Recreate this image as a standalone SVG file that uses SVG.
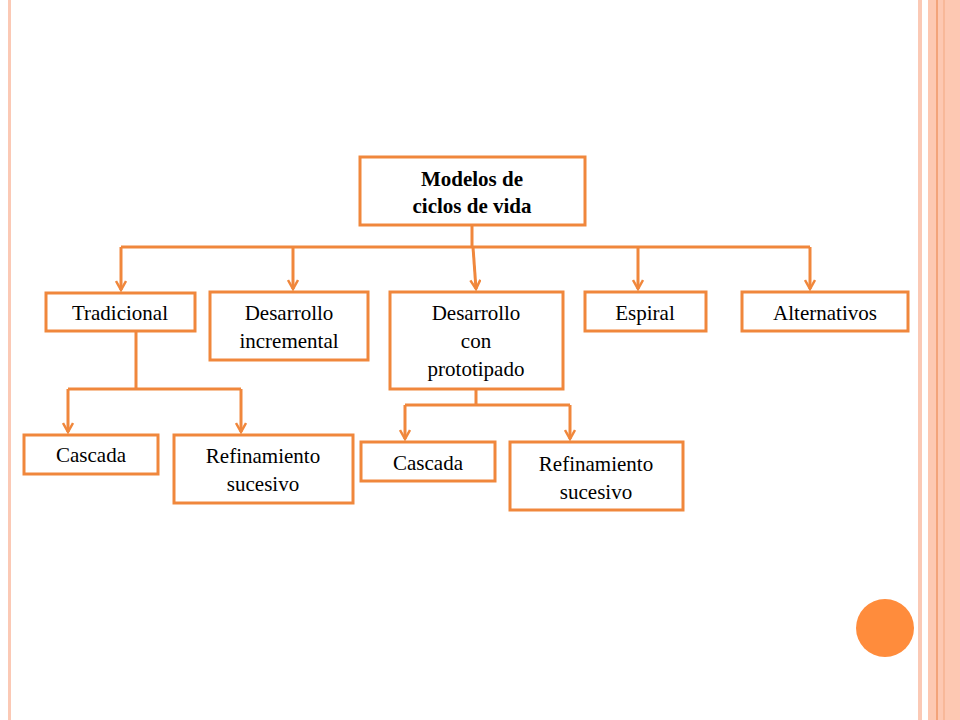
<svg xmlns="http://www.w3.org/2000/svg" width="960" height="720" viewBox="0 0 960 720">
<defs>
<marker id="a" viewBox="0 0 12 12" refX="10" refY="6" markerWidth="12" markerHeight="12" markerUnits="userSpaceOnUse" orient="auto"><path d="M1,1 L10,6 L1,11" fill="none" stroke="#F0873C" stroke-width="2.5"/></marker>
<style>
.b{fill:#fff;stroke:#F0873C;stroke-width:3}
.t{font-family:"Liberation Serif",serif;font-size:21px;fill:#000;text-anchor:middle}
.c{fill:none;stroke:#F0873C;stroke-width:3}
</style>
</defs>
<rect width="960" height="720" fill="#fff"/>
<rect x="8" y="0" width="3" height="720" fill="#FBC9B5"/>
<rect x="918" y="0" width="4" height="720" fill="#FBC9B5"/>
<rect x="928" y="0" width="32" height="720" fill="#FDC8B2"/>
<rect x="936" y="0" width="2" height="720" fill="#F3A37A"/>
<rect x="943" y="0" width="2" height="720" fill="#F8B899"/>
<circle cx="885" cy="628" r="29" fill="#FF8C3C"/>
<g id="connectors">
<path class="c" d="M472,225 V247"/>
<path class="c" d="M121,247 H810"/>
<path class="c" d="M121,247 V290" marker-end="url(#a)"/>
<path class="c" d="M293,247 V289" marker-end="url(#a)"/>
<path class="c" d="M473,247 L476,289" marker-end="url(#a)"/>
<path class="c" d="M638,247 V289" marker-end="url(#a)"/>
<path class="c" d="M810,247 V289" marker-end="url(#a)"/>
<path class="c" d="M136,331 V389 M68,389 H241"/>
<path class="c" d="M68,389 V432" marker-end="url(#a)"/>
<path class="c" d="M241,389 V432" marker-end="url(#a)"/>
<path class="c" d="M476,389 V405 M405,405 H570"/>
<path class="c" d="M405,405 V439" marker-end="url(#a)"/>
<path class="c" d="M570,405 V439" marker-end="url(#a)"/>
</g>
<g id="root"><rect class="b" x="360" y="157" width="225" height="68"/><text class="t" font-weight="bold" x="472" y="186">Modelos de</text><text class="t" font-weight="bold" x="472" y="213">ciclos de vida</text></g>
<g id="tradicional"><rect class="b" x="46" y="293" width="149" height="38"/><text class="t" x="120" y="320">Tradicional</text></g>
<g id="incremental"><rect class="b" x="210" y="292" width="158" height="68"/><text class="t" x="289" y="320">Desarrollo</text><text class="t" x="289" y="348">incremental</text></g>
<g id="prototipado"><rect class="b" x="390" y="292" width="173" height="97"/><text class="t" x="476" y="320">Desarrollo</text><text class="t" x="476" y="348">con</text><text class="t" x="476" y="376">prototipado</text></g>
<g id="espiral"><rect class="b" x="585" y="292" width="121" height="39"/><text class="t" x="645" y="320">Espiral</text></g>
<g id="alternativos"><rect class="b" x="742" y="292" width="166" height="39"/><text class="t" x="825" y="320">Alternativos</text></g>
<g id="cascada1"><rect class="b" x="24" y="435" width="134" height="39"/><text class="t" x="91" y="462">Cascada</text></g>
<g id="refinamiento1"><rect class="b" x="174" y="435" width="179" height="68"/><text class="t" x="263" y="463">Refinamiento</text><text class="t" x="263" y="491">sucesivo</text></g>
<g id="cascada2"><rect class="b" x="361" y="442" width="134" height="39"/><text class="t" x="428" y="470">Cascada</text></g>
<g id="refinamiento2"><rect class="b" x="510" y="442" width="173" height="68"/><text class="t" x="596" y="471">Refinamiento</text><text class="t" x="596" y="499">sucesivo</text></g>
</svg>
